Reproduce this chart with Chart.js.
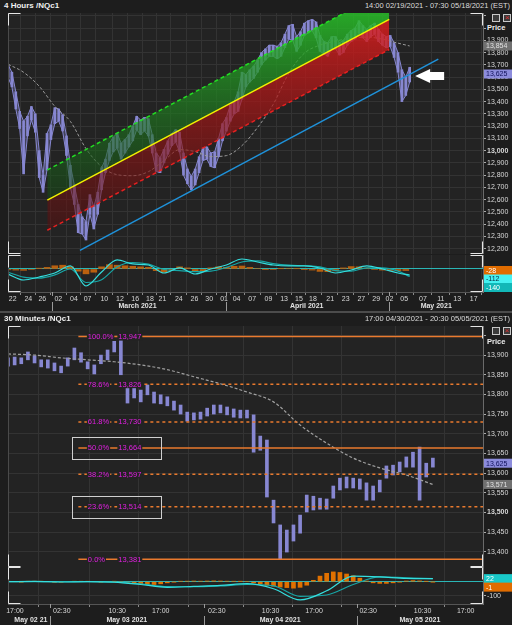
<!DOCTYPE html>
<html>
<head>
<meta charset="utf-8">
<script src="https://cdn.jsdelivr.net/npm/chart.js@4.4.1/dist/chart.umd.min.js"></script>
<style>
html, body { margin: 0; padding: 0; background: #1d1d1d; width: 512px; height: 625px; overflow: hidden; font-family: 'Liberation Sans', Arial, sans-serif; }
canvas { position: absolute; left: 0; }
.hdr { position: absolute; left: 0; width: 512px; height: 12px; line-height: 12px; }
.hdr b { position: absolute; left: 4px; color: #f0f0f0; font-size: 8px; }
.hdr span { position: absolute; right: 2px; color: #dcdcdc; font-size: 7.5px; }
.price { position: absolute; left: 487px; color: #eee; font-size: 7.5px; font-weight: bold; }
.ico { position: absolute; width: 6px; height: 6px; border: 1px solid #c8c8c8; background: #3a3a3a; }
.ico.x { color: #e03030; font-size: 8px; line-height: 6px; text-align: center; }
.sep { position: absolute; left: 0; width: 512px; height: 2px; top: 311px; background: #4c4c4c; }
</style>
</head>
<body>
<div class="hdr" style="top:0"><b>4 Hours /NQc1</b><span>14:00 02/19/2021 - 07:30 05/18/2021 (EST)</span></div>
<div class="ico" style="left:492px;top:14px"></div><div class="ico x" style="left:503px;top:14px">×</div>
<div class="price" style="top:23px">Price</div>
<canvas id="c1" width="512" height="241" style="top:13px"></canvas>
<canvas id="c2" width="512" height="59" style="top:254px"></canvas>
<div class="sep"></div>
<div class="hdr" style="top:313px"><b>30 Minutes /NQc1</b><span>17:00 04/30/2021 - 20:30 05/05/2021 (EST)</span></div>
<canvas id="c3" width="512" height="241" style="top:326px"></canvas>
<div class="ico" style="left:492px;top:327px"></div><div class="ico x" style="left:503px;top:327px">×</div>
<div class="price" style="top:337px">Price</div>
<canvas id="c4" width="512" height="58" style="top:567px"></canvas>
<script>
// ---- 4 hour panel (x in trading days from 19 Feb, one candle every half day) ----
const topHigh = [13700,13640,13480,13320,13240,13280,13360,13300,13000,12800,
  13140,13210,13350,13340,13290,13120,12880,12720,12560,12460,
  12420,12640,12540,12660,12860,12930,13060,13110,13140,13060,
  13090,13130,13200,13280,13250,13270,13260,13130,12980,12940,
  13010,13080,13140,13170,13150,12980,12850,12790,12850,12950,
  13020,13030,12980,12990,13100,13220,13270,13370,13400,13480,
  13640,13620,13660,13690,13740,13800,13830,13860,13860,13850,
  13880,13950,14020,14030,13930,13970,14040,14060,14070,14050,
  13940,13890,13880,13930,13930,13880,13900,13950,13980,14000,
  14060,14020,13990,14020,14040,13990,13950,13930,13940,13880,
  13800,13660,13600,13680];
const topLow = [13600,13520,13340,13180,12810,13120,13250,13150,12780,12660,
  12840,13090,13220,13240,13160,12960,12700,12560,12330,12320,
  12270,12480,12360,12480,12680,12820,12920,12990,13020,12930,
  12980,13030,13080,13170,13130,13160,13120,12980,12830,12820,
  12900,12970,13040,13070,12990,12800,12730,12680,12720,12820,
  12920,12930,12870,12860,12950,13080,13160,13240,13300,13320,
  13420,13520,13560,13590,13640,13700,13740,13770,13770,13750,
  13770,13840,13910,13900,13810,13860,13940,13960,13980,13920,
  13810,13790,13770,13830,13830,13780,13800,13860,13890,13910,
  13960,13920,13890,13930,13950,13890,13860,13840,13850,13760,
  13640,13400,13450,13560];
const slowX = [0,2,4,6,8,10,12,14,16,18,20,22,24,26,28,30,32,34,36,38,40,42,44,46,48,50,51.5];
const slowAvgTop = [13705,13639,13525,13361,13238,13016,12869,12803,12795,12828,12918,13008,12992,12951,12959,13041,13189,13377,13631,13795,13861,13893,13918,13926,13910,13877,13854];
const macdTop = [-93,-204,-148,-74,56,-315,-56,167,93,74,-74,19,-93,0,74,185,130,74,56,56,19,-74,-19,56,0,-74,-112];
const signalTop = [-60,-150,-170,-110,0,-250,-200,40,120,90,-10,-30,-50,-40,30,130,150,100,70,60,40,-30,-40,20,20,-40,-140];
const histTop = [-15,-20,-25,-10,15,30,60,70,40,-40,-90,-60,40,80,70,60,50,40,30,-30,-60,-20,40,20,-50,-40,20,40,30,50,55,30,10,-5,-10,5,10,5,-5,-20,-45,-50,-35,20,45,40,15,-10,-20,-25,-30,-28];

const chanX = [5.04, 48.88];
const chanUpper = [12842, 14317];
const chanMid = [12596, 14071];
const chanLower = [12350, 13825];
const supportX = [9.23, 55.17];
const supportY = [12186, 13746];

const tickPosTop = [0.6,2.6,4.4,6.45,8.45,10.2,12.35,14.35,16.3,18.2,19.8,21.9,23.9,25.8,27.7,29.3,31.3,33.4,35.4,37.3,39.1,41.3,43.3,45.3,47.2,48.9,50.8,53.2,55.5,57.6,59.7];
const tickLblTop = ['22','24','26','02','04','07','10','12','16','18','21','24','26','30','01','04','07','09','13','15','18','21','23','27','29','02','05','07','11','13','17'];
const monthSep = [5.6, 27.9, 48.9];
const monthLbl = ['March 2021', 'April 2021', 'May 2021'];
const monthPos = [16.6, 38.3, 54.9];
const priceTicksTop = [12200,12300,12400,12500,12600,12700,12800,12900,13000,13100,13200,13300,13400,13500,13600,13700,13800,13900,14000,14100];

// ---- 30 minute panel (x in bar index, one candle every two bars) ----
const botHigh = [13893,13895,13893,13908,13898,13888,13888,13880,13872,13893,
  13918,13906,13883,13875,13900,13913,13935,13947,13822,13822,
  13811,13824,13806,13799,13794,13783,13773,13755,13753,13755,
  13765,13773,13773,13768,13763,13760,13760,13748,13694,13684,
  13531,13468,13455,13468,13493,13544,13541,13536,13534,13567,
  13587,13590,13587,13585,13575,13567,13582,13618,13620,13628,
  13641,13653,13666,13625,13638];
const botLow = [13872,13875,13878,13888,13880,13870,13867,13860,13855,13872,
  13888,13882,13865,13852,13878,13888,13908,13850,13778,13791,
  13781,13799,13778,13776,13771,13760,13750,13732,13735,13737,
  13745,13750,13753,13748,13742,13740,13740,13653,13658,13539,
  13473,13381,13399,13427,13447,13501,13506,13508,13508,13536,
  13557,13562,13562,13559,13531,13531,13552,13587,13595,13603,
  13615,13615,13531,13590,13615];
const slowAvgBot = [13903,13900,13893,13888,13883,13875,13863,13845,13827,13806,13781,13722,13676,13638,13613,13595,13571];
const macdBot = [0,2,-2,1,-3,-20,-40,-33,-26,-14,-50,-130,-65,40,35,24,22];
const signalBot = [0,1,0,0,-2,-15,-35,-36,-30,-20,-30,-105,-95,-20,35,28,22];
const histBot = [1,0,-1,1,2,1,0,-1,-2,0,1,2,1,0,-1,0,1,-2,-5,
  -10,-15,-18,-20,-15,-8,-2,3,4,5,4,5,6,5,4,3,2,0,
  -8,-15,-25,-32,-38,-42,-46,-40,-25,10,40,60,70,66,55,42,25,5,-8,-12,-12,-8,-3,5,8,6,2,-1];

const fibPct = ['100.0%','78.6%','61.8%','50.0%','38.2%','23.6%','0.0%'];
const fibVal = [13947,13826,13730,13664,13597,13514,13381];
const fibSolid = [true,false,false,true,false,false,true];
const fibBoxed = [false,false,false,true,false,true,false];
const fibStart = 21.2, fibEnd = 143.1;

const tickPosBot = [2.1,16.2,32.9,46,62.9,79.1,92.2,108.5,124.9,137.9];
const tickLblBot = ['17:00','02:30','10:30','17:00','02:30','10:30','17:00','02:30','10:30','17:00'];
const daySep = [12.7, 59, 105];
const dayLbl = ['May 02 21', 'May 03 2021', 'May 04 2021', 'May 05 2021'];
const dayPos = [6.9, 35.8, 82, 124.1];
const priceTicksBot = [13400,13450,13500,13550,13600,13650,13700,13750,13800,13850,13900,13950];

const F = "'Liberation Sans', Arial, sans-serif";
Chart.defaults.font.family = F;
Chart.defaults.animation = false;

const pts = (xs, ys) => xs.map((x, i) => ({x, y: ys[i]}));
const fmt = v => v.toLocaleString('en-US');
const CANDLE = '#8787d2';

function noPad(ax) { ax.paddingLeft = 0; ax.paddingRight = 0; ax.paddingTop = 0; ax.paddingBottom = 0; }

function xAxis(max, ticks, labels, show) {
    return {
        type: 'linear', min: 0, max, offset: false,
        afterBuildTicks: ax => { ax.ticks = ticks.map(v => ({value: v})); },
        ticks: show
            ? {display: true, color: '#d8d8d8', font: {size: 7}, padding: 0, maxRotation: 0, autoSkip: false, callback: (v, i) => labels[i]}
            : {display: false},
        grid: {color: '#333', drawTicks: show, tickLength: 3, tickColor: '#8a8a8a'},
        border: {display: show, color: '#555'},
        afterFit: ax => { noPad(ax); ax.height = show ? 21 : 0; }
    };
}

function yPrice(min, max, ticks, bold) {
    return {
        position: 'right', min, max,
        afterBuildTicks: ax => { ax.ticks = ticks.map(v => ({value: v})); },
        ticks: {
            color: '#d8d8d8', padding: 1, autoSkip: false,
            font: c => ({size: 7, weight: c.tick && c.tick.value === bold ? 'bold' : 'normal'}),
            callback: v => v > 13900 ? '' : fmt(v)
        },
        grid: {color: '#333', tickColor: '#aaa', tickLength: 3},
        border: {color: '#6a6a6a'},
        afterFit: ax => { noPad(ax); ax.width = 29; }
    };
}

function yOsc(min, max, ticks, shown) {
    return {
        position: 'right', min, max,
        afterBuildTicks: ax => { ax.ticks = ticks.map(v => ({value: v})); },
        ticks: {color: '#d8d8d8', font: {size: 7}, padding: 1, callback: v => shown.includes(v) ? String(v) : ''},
        grid: {color: c => (c.tick && c.tick.value === 0) ? '#2ab6b6' : '#333', tickColor: '#aaa', tickLength: 3},
        border: {color: '#6a6a6a'},
        afterFit: ax => { noPad(ax); ax.width = 29; }
    };
}

function vGrad(stops) {
    return c => {
        const {ctx, chartArea} = c.chart;
        if (!chartArea) return 'transparent';
        const g = ctx.createLinearGradient(0, chartArea.top, 0, chartArea.bottom);
        stops.forEach(s => g.addColorStop(s[0], s[1]));
        return g;
    };
}

// plot background, left edge and white corner marks
const frame = {
    id: 'frame',
    beforeDraw(chart) {
        const {ctx, chartArea: a} = chart;
        ctx.save();
        ctx.fillStyle = '#232323';
        ctx.fillRect(a.left, a.top, a.width, a.height);
        ctx.restore();
    },
    afterDraw(chart) {
        const {ctx, chartArea: a} = chart;
        const L = 12, l = a.left + 0.5, r = a.right - 0.5, t = a.top + 0.5, b = a.bottom - 0.5;
        ctx.save();
        ctx.strokeStyle = '#4a4a4a';
        ctx.beginPath(); ctx.moveTo(l, a.top); ctx.lineTo(l, a.bottom); ctx.stroke();
        ctx.strokeStyle = '#e6e6e6';
        ctx.beginPath();
        ctx.moveTo(l, t + L); ctx.lineTo(l, t); ctx.lineTo(l + L, t);
        ctx.moveTo(r - L, t); ctx.lineTo(r, t); ctx.lineTo(r, t + L);
        ctx.moveTo(l, b - L); ctx.lineTo(l, b); ctx.lineTo(l + L, b);
        ctx.moveTo(r - L, b); ctx.lineTo(r, b); ctx.lineTo(r, b - L);
        ctx.stroke();
        ctx.restore();
    }
};

// last value boxes on the right axis
const valueBoxes = {
    id: 'valueBoxes',
    afterDraw(chart, args, opts) {
        const items = opts.items || [];
        const {ctx, chartArea: a} = chart;
        const ys = chart.scales.y;
        const placed = items.map(it => Object.assign({}, it, {py: ys.getPixelForValue(it.value)})).sort((p, q) => p.py - q.py);
        let prev = -Infinity;
        ctx.save();
        ctx.font = '7px ' + F;
        ctx.textBaseline = 'middle';
        ctx.textAlign = 'left';
        placed.forEach(it => {
            const py = Math.max(it.py, prev + 8.5);
            prev = py;
            ctx.fillStyle = it.bg;
            ctx.fillRect(a.right + 1, py - 4.5, 28, 9);
            ctx.fillStyle = it.fg;
            ctx.fillText(it.text, a.right + 3, py + 0.5);
        });
        ctx.restore();
    }
};

// white arrow annotation
const pointer = {
    id: 'pointer',
    afterDatasetsDraw(chart, args, opts) {
        if (opts.x == null) return;
        const {ctx} = chart;
        const px = chart.scales.x.getPixelForValue(opts.x);
        const py = chart.scales.y.getPixelForValue(opts.y);
        ctx.save();
        ctx.fillStyle = '#ffffff';
        ctx.beginPath();
        ctx.moveTo(px, py);
        ctx.lineTo(px + 15, py - 7);
        ctx.lineTo(px + 15, py - 4);
        ctx.lineTo(px + 29, py - 4);
        ctx.lineTo(px + 29, py + 4);
        ctx.lineTo(px + 15, py + 4);
        ctx.lineTo(px + 15, py + 7);
        ctx.closePath();
        ctx.fill();
        ctx.restore();
    }
};

// fibonacci level captions and the two highlight boxes
const fibLabels = {
    id: 'fibLabels',
    afterDatasetsDraw(chart, args, opts) {
        if (!opts.on) return;
        const {ctx} = chart;
        const x0 = chart.scales.x.getPixelForValue(fibStart);
        const ys = chart.scales.y;
        ctx.save();
        ctx.font = '7.5px ' + F;
        ctx.textBaseline = 'middle';
        fibVal.forEach((v, i) => {
            const py = ys.getPixelForValue(v);
            [[fibPct[i], x0 + 9.5], [fmt(v), x0 + 40]].forEach(([t, tx]) => {
                const w = ctx.measureText(t).width;
                ctx.fillStyle = '#232323';
                ctx.fillRect(tx - 1, py - 4, w + 2, 8);
                ctx.fillStyle = '#e21fe2';
                ctx.fillText(t, tx, py + 0.5);
            });
            if (fibBoxed[i]) {
                ctx.strokeStyle = '#cfcfcf';
                ctx.lineWidth = 1;
                ctx.strokeRect(Math.round(x0 - 6) + 0.5, Math.round(py - 11) + 0.5, 89, 22);
            }
        });
        ctx.restore();
    }
};

// second row of the time axis (months / days)
const dateRow = {
    id: 'dateRow',
    afterDraw(chart, args, opts) {
        if (!opts.seps) return;
        const {ctx} = chart;
        const xs = chart.scales.x;
        const top = xs.top;
        ctx.save();
        ctx.strokeStyle = '#9a9a9a';
        ctx.lineWidth = 1;
        opts.seps.forEach(v => {
            const px = Math.round(xs.getPixelForValue(v)) + 0.5;
            ctx.beginPath();
            ctx.moveTo(px, top); ctx.lineTo(px, top + 4);
            ctx.moveTo(px, top + opts.dy - 4); ctx.lineTo(px, top + 21);
            ctx.stroke();
        });
        ctx.fillStyle = '#e2e2e2';
        ctx.font = 'bold 7px ' + F;
        ctx.textAlign = 'center';
        ctx.textBaseline = 'middle';
        opts.labels.forEach((t, i) => ctx.fillText(t, xs.getPixelForValue(opts.pos[i]), top + opts.dy));
        ctx.restore();
    }
};

const basePlugins = {legend: {display: false}, tooltip: {enabled: false}};
const line = (data, color, extra) => Object.assign({type: 'line', data, borderColor: color, borderWidth: 1.5, pointRadius: 0, fill: false, clip: 0}, extra || {});
const topX = topHigh.map((_, i) => i * 0.5);

// Grafic 1: 4 hours price
new Chart(document.getElementById('c1'), {
    type: 'line',
    data: {
        datasets: [
            line(pts(chanX, chanUpper), '#22dd22', {borderDash: [4, 3], order: 2}),
            line(pts(chanX, chanMid), '#f2f200', {order: 3, fill: '-1',
                backgroundColor: vGrad([[0, 'rgba(40,190,40,0.85)'], [0.45, 'rgba(30,120,30,0.62)'], [0.85, 'rgba(20,60,20,0.5)']])}),
            line(pts(chanX, chanLower), '#e82020', {borderDash: [4, 3], order: 4, fill: '-1',
                backgroundColor: vGrad([[0, 'rgba(225,30,30,0.85)'], [0.5, 'rgba(150,20,20,0.65)'], [0.95, 'rgba(80,15,15,0.5)']])}),
            line(pts(supportX, supportY), '#1f92da', {order: 1}),
            line(pts(slowX, slowAvgTop), '#9a9a9a', {borderWidth: 1, borderDash: [3, 2], cubicInterpolationMode: 'monotone', order: 5}),
            line(pts(topX, topHigh), CANDLE, {borderWidth: 1, order: 8}),
            line(pts(topX, topLow), CANDLE, {borderWidth: 1, order: 8, fill: '-1', backgroundColor: 'rgba(135,135,210,0.3)'}),
            {type: 'bar', data: topHigh.map((h, i) => ({x: topX[i], y: [topLow[i], h]})), backgroundColor: CANDLE, barThickness: 2, order: 9}
        ]
    },
    options: {
        responsive: false, events: [],
        layout: {padding: {left: 8, right: 0, top: 0, bottom: 0}},
        scales: {x: xAxis(60.9, tickPosTop, tickLblTop, false), y: yPrice(12156, 14123, priceTicksTop, 13000)},
        plugins: Object.assign({}, basePlugins, {
            valueBoxes: {items: [
                {value: 13854, text: '13,854', bg: '#707070', fg: '#e0e0e0'},
                {value: 13625, text: '13,625', bg: '#8c8cdc', fg: '#10105a'}
            ]},
            pointer: {x: 52.2, y: 13609}
        })
    },
    plugins: [frame, valueBoxes, pointer]
});

// Grafic 2: 4 hours MACD
new Chart(document.getElementById('c2'), {
    type: 'line',
    data: {
        datasets: [
            line(pts(slowX, macdTop), '#35dede', {borderWidth: 1.2, cubicInterpolationMode: 'monotone', order: 1}),
            line(pts(slowX, signalTop), '#17a6a6', {borderWidth: 1.2, cubicInterpolationMode: 'monotone', order: 2}),
            {type: 'bar', data: histTop.map((v, i) => ({x: i, y: v})), backgroundColor: '#b9600f', barThickness: 6, order: 3}
        ]
    },
    options: {
        responsive: false, events: [],
        layout: {padding: {left: 8, right: 0, top: 1, bottom: 0}},
        scales: {x: xAxis(60.9, tickPosTop, tickLblTop, true), y: yOsc(-426, 259, [0], [])},
        plugins: Object.assign({}, basePlugins, {
            valueBoxes: {items: [
                {value: -28, text: '-28', bg: '#e06c00', fg: '#ffffff'},
                {value: -112, text: '-112', bg: '#45f2f2', fg: '#0a2a40'},
                {value: -140, text: '-140', bg: '#12b8b8', fg: '#ffffff'}
            ]},
            dateRow: {seps: monthSep, labels: monthLbl, pos: monthPos, dy: 14}
        })
    },
    plugins: [frame, valueBoxes, dateRow]
});

// Grafic 3: 30 minutes price with fibonacci levels
const fibSets = fibVal.map((v, i) => line(pts([fibStart, fibEnd], [v, v]), '#ea7a2e',
    {borderDash: fibSolid[i] ? [] : [3, 3], order: 1}));
new Chart(document.getElementById('c3'), {
    type: 'line',
    data: {
        datasets: fibSets.concat([
            line(slowAvgBot.map((v, i) => ({x: i * 8, y: v})), '#a0a0a0', {borderWidth: 1.2, borderDash: [3, 2], cubicInterpolationMode: 'monotone', order: 2}),
            {type: 'bar', data: botHigh.map((h, i) => ({x: i * 2, y: [botLow[i], h]})), backgroundColor: CANDLE, barThickness: 3, order: 9}
        ])
    },
    options: {
        responsive: false, events: [],
        layout: {padding: {left: 8, right: 0, top: 0, bottom: 0}},
        scales: {x: xAxis(143.1, tickPosBot, tickLblBot, false), y: yPrice(13361, 13974, priceTicksBot, 13500)},
        plugins: Object.assign({}, basePlugins, {
            valueBoxes: {items: [
                {value: 13625, text: '13,625', bg: '#8c8cdc', fg: '#10105a'},
                {value: 13571, text: '13,571', bg: '#707070', fg: '#e0e0e0'}
            ]},
            fibLabels: {on: true}
        })
    },
    plugins: [frame, valueBoxes, fibLabels]
});

// Grafic 4: 30 minutes MACD
new Chart(document.getElementById('c4'), {
    type: 'line',
    data: {
        datasets: [
            line(macdBot.map((v, i) => ({x: i * 8, y: v})), '#35dede', {borderWidth: 1.2, cubicInterpolationMode: 'monotone', order: 1}),
            line(signalBot.map((v, i) => ({x: i * 8, y: v})), '#17a6a6', {borderWidth: 1.2, cubicInterpolationMode: 'monotone', order: 2}),
            {type: 'bar', data: histBot.map((v, i) => ({x: i * 2, y: v})), backgroundColor: '#e07000', barThickness: 4, order: 3}
        ]
    },
    options: {
        responsive: false, events: [],
        layout: {padding: {left: 8, right: 0, top: 0, bottom: 0}},
        scales: {x: xAxis(143.1, tickPosBot, tickLblBot, true), y: yOsc(-159, 105, [0, -100], [-100])},
        plugins: Object.assign({}, basePlugins, {
            valueBoxes: {items: [
                {value: 22, text: '22', bg: '#19c9c9', fg: '#ffffff'},
                {value: -1, text: '-1', bg: '#e06c00', fg: '#ffffff'}
            ]},
            dateRow: {seps: daySep, labels: dayLbl, pos: dayPos, dy: 16}
        })
    },
    plugins: [frame, valueBoxes, dateRow]
});
</script>
</body>
</html>
